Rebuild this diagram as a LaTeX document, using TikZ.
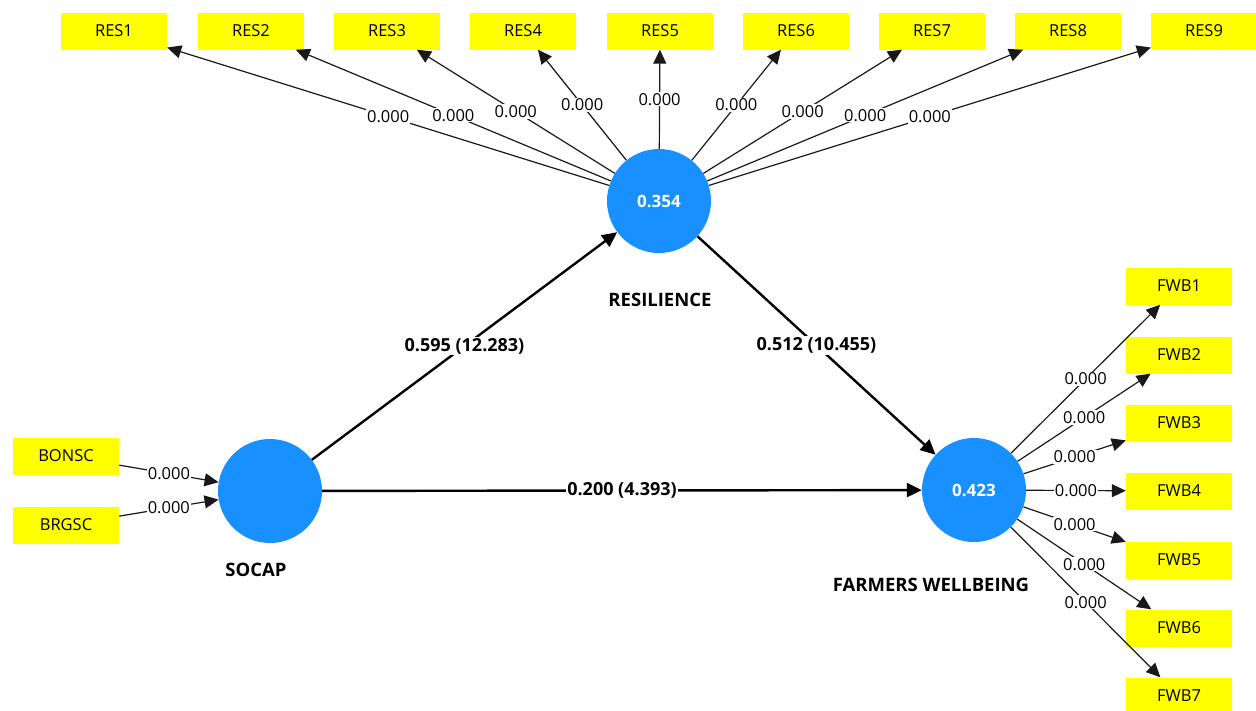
\documentclass[tikz,border=0pt]{standalone}
\usepackage{fontspec}
\setmainfont{Open Sans}
\usetikzlibrary{arrows.meta}
\definecolor{lvblue}{RGB}{24,144,255}
\definecolor{indyellow}{RGB}{255,255,0}
\begin{document}
\begin{tikzpicture}[x=1pt,y=-1pt,
 ind/.style={fill=indyellow, minimum width=106pt, minimum height=37pt, inner sep=0pt, font=\fontsize{16.5}{19}\selectfont},
 lv/.style={circle, fill=lvblue, minimum size=104pt, inner sep=0pt, text=white, font=\bfseries\fontsize{17}{20}\selectfont},
 lvname/.style={font=\bfseries\fontsize{18.5}{21}\selectfont},
 load/.style={draw=black!90, line width=1.2pt, -{Triangle[length=14pt,width=13pt]}},
 pathc/.style={draw=black, line width=2.4pt, -{Triangle[length=15pt,width=14pt]}},
 lbl/.style={fill=white, inner sep=1pt, font=\fontsize{16.5}{19}\selectfont},
 blbl/.style={fill=white, inner sep=1.5pt, font=\bfseries\fontsize{18}{21}\selectfont}]
\useasboundingbox (0,0) rectangle (1256,710);

% latent variables
\node[lv] (res) at (659,201) {0.354};
\node[lv] (soc) at (270,491) {};
\node[lv] (fwb) at (974,490) {0.423};
\node[lvname] (resn) at (660,300) {RESILIENCE};
\node[lvname] (socn) at (256,570) {SOCAP};
\node[lvname] (fwbn) at (931,585) {FARMERS WELLBEING};

% indicators
\foreach \i/\x in {1/114,2/251,3/387,4/523,5/660,6/796,7/932,8/1068,9/1204}
  \node[ind] (res\i) at (\x,31) {RES\i};
\node[ind] (bonsc) at (66,456) {BONSC};
\node[ind] (brgsc) at (66,525) {BRGSC};
\foreach \i/\y in {1/286,2/355,3/423,4/491,5/560,6/628,7/696}
  \node[ind] (fwb\i) at (1179,\y) {FWB\i};

% outer loadings
\foreach \i in {1,...,9}
  \draw[load] (res) -- node[lbl] {0.000} (res\i);
\foreach \i in {1,...,7}
  \draw[load] (fwb) -- node[lbl] {0.000} (fwb\i);
\draw[load] (bonsc) -- node[lbl] {0.000} (soc);
\draw[load] (brgsc) -- node[lbl] {0.000} (soc);

% structural paths
\draw[pathc] (soc) -- node[blbl] {0.595 (12.283)} (res);
\draw[pathc] (res) -- node[blbl] {0.512 (10.455)} (fwb);
\draw[pathc] (soc) -- node[blbl] {0.200 (4.393)} (fwb);
\end{tikzpicture}
\end{document}
